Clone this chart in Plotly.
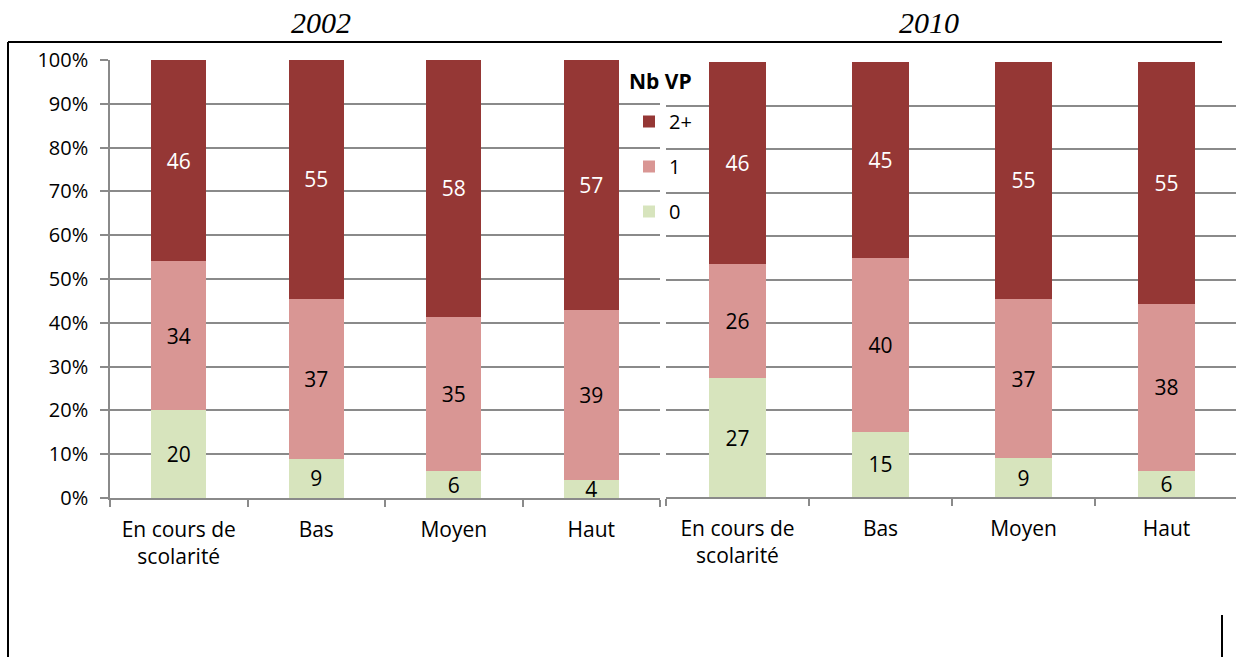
import plotly.graph_objects as go

W, H = 1236, 657

categories = ["En cours de<br>scolarité", "Bas", "Moyen", "Haut"]
groups = ["0", "1", "2+"]
legend_rank = {"2+": 1, "1": 2, "0": 3}

# parts (%) per education level
vp_2002 = {"0": [20, 9, 6, 4], "1": [34, 37, 35, 39], "2+": [46, 55, 58, 57]}
vp_2010 = {"0": [27, 15, 9, 6], "1": [26, 40, 37, 38], "2+": [46, 45, 55, 55]}

y_ticks = list(range(0, 101, 10))
y_tick_text = [f"{v}%" for v in y_ticks]

colors = {"0": "#D7E4BD", "1": "#D99694", "2+": "#953735"}
text_colors = {"0": "black", "1": "black", "2+": "white"}

FONT = "Open Sans"
GRID = "#8a8a8a"


def px_x(v):
    return v / W


def px_y(v):
    return 1 - v / H


fig = go.Figure()

for year, data, xa, ya in [("2002", vp_2002, "x", "y"), ("2010", vp_2010, "x2", "y2")]:
    for g in groups:
        fig.add_trace(go.Bar(
            x=categories, y=data[g], name=g, text=data[g],
            marker=dict(color=colors[g], line=dict(width=0)),
            textposition="inside", insidetextanchor="middle", textangle=0,
            constraintext="none",
            textfont=dict(family=FONT, size=21, color=text_colors[g]),
            legendgroup=g, legendrank=legend_rank[g], showlegend=(year == "2002"),
            xaxis=xa, yaxis=ya,
        ))

x_common = dict(type="category", showline=True, linecolor=GRID, linewidth=1.5,
                ticks="outside", tickson="boundaries", ticklen=7, tickcolor=GRID,
                tickwidth=1.5, showgrid=False, automargin=False, ticklabelstandoff=12,
                tickfont=dict(family=FONT, size=21, color="black"))

fig.update_layout(
    width=W, height=H,
    margin=dict(l=0, r=0, t=0, b=0, autoexpand=False),
    paper_bgcolor="white", plot_bgcolor="white",
    barmode="stack", barnorm="percent", bargap=0.6,
    xaxis=dict(domain=[px_x(110), px_x(660)], range=[-0.5, 3.5], anchor="y", **x_common),
    xaxis2=dict(domain=[px_x(666), 1.0], range=[-0.5, 3.486], anchor="y2", **x_common),
    yaxis=dict(domain=[px_y(498), px_y(60)], range=[0, 100], anchor="x",
               tickmode="array", tickvals=y_ticks, ticktext=y_tick_text,
               showline=True, linecolor=GRID, linewidth=1.5, automargin=False,
               ticks="outside", ticklen=8, tickcolor=GRID, tickwidth=1.5,
               ticklabelstandoff=8,
               showgrid=True, gridcolor=GRID, gridwidth=1.5, zeroline=False,
               tickfont=dict(family=FONT, size=20, color="black")),
    yaxis2=dict(domain=[px_y(497), px_y(62)], range=[0, 100], anchor="x2",
                tickmode="array", tickvals=y_ticks, showticklabels=False,
                showline=False, ticks="", showgrid=True, gridcolor=GRID,
                gridwidth=1.5, zeroline=False, automargin=False),
    legend=dict(font=dict(family=FONT, size=20, color="black"),
                traceorder="grouped", tracegroupgap=16,
                x=px_x(629), y=px_y(102), xanchor="left", yanchor="top",
                bgcolor="rgba(0,0,0,0)"),
    showlegend=True,
)

# legend heading
fig.add_annotation(text="<b>Nb VP</b>", x=px_x(627), y=px_y(81), xref="paper", yref="paper",
                   showarrow=False, xanchor="left", yanchor="middle",
                   font=dict(family=FONT, size=21, color="black"))

for label, xc in [("2002", 321), ("2010", 929)]:
    fig.add_annotation(text=f"<i>{label}</i>", x=px_x(xc), y=px_y(23), xref="paper", yref="paper",
                       showarrow=False, xanchor="center", yanchor="middle",
                       font=dict(family="Liberation Serif", size=30, color="black"))

# frame lines of the page
for x0, y0, x1, y1 in [(8, 42, 1222, 42), (8, 42, 8, 657), (1222, 615, 1222, 657)]:
    fig.add_shape(type="line", xref="paper", yref="paper",
                  x0=px_x(x0), y0=px_y(y0), x1=px_x(x1), y1=px_y(y1),
                  line=dict(color="black", width=2))

fig.write_html("out.html", config={"displayModeBar": False},
               post_script="document.body.style.margin='0';")
